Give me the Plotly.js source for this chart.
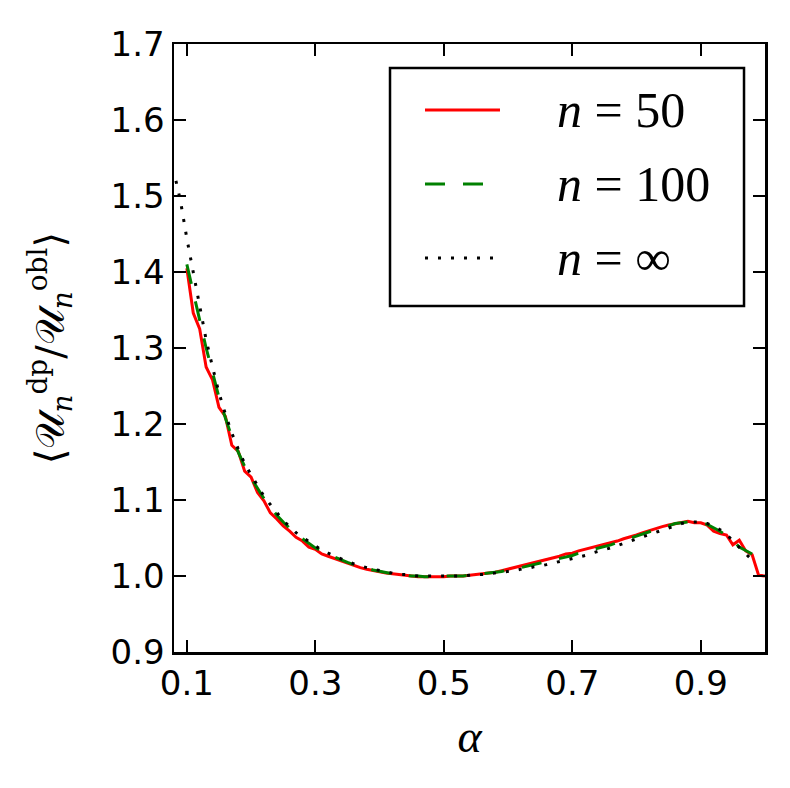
<!DOCTYPE html>
<html>
<head>
<meta charset="utf-8">
<script src="https://cdn.plot.ly/plotly-3.0.1.min.js"></script>
<style>html,body{margin:0;padding:0;background:#fff;}#chart{width:790px;height:788px;}</style>
</head>
<body>
<div id="chart"></div>
<script>
// ---- data ----
var alpha50 = [0.10,0.11,0.12,0.13,0.14,0.15,0.16,0.17,0.18,0.19,0.20,0.21,0.22,0.23,0.24,0.25,0.26,0.27,0.28,0.29,0.30,0.31,0.32,0.33,0.34,0.35,0.36,0.37,0.38,0.39,0.40,0.41,0.42,0.43,0.44,0.45,0.46,0.47,0.48,0.49,0.50,0.51,0.52,0.53,0.54,0.55,0.56,0.57,0.58,0.59,0.60,0.61,0.62,0.63,0.64,0.65,0.66,0.67,0.68,0.69,0.70,0.71,0.72,0.73,0.74,0.75,0.76,0.77,0.78,0.79,0.80,0.81,0.82,0.83,0.84,0.85,0.86,0.87,0.88,0.89,0.90,0.91,0.92,0.93,0.94,0.95,0.96,0.97,0.98,0.99,1.00];
var ratio50 = [1.405,1.346,1.325,1.275,1.258,1.222,1.210,1.172,1.164,1.138,1.130,1.110,1.099,1.083,1.075,1.066,1.059,1.051,1.046,1.038,1.035,1.029,1.026,1.023,1.019,1.016,1.013,1.011,1.009,1.007,1.005,1.004,1.003,1.002,1.001,1.000,0.999,0.999,0.999,0.999,0.999,1.000,1.000,1.000,1.001,1.002,1.003,1.004,1.005,1.007,1.009,1.011,1.013,1.015,1.017,1.020,1.021,1.024,1.026,1.029,1.030,1.033,1.035,1.037,1.039,1.042,1.043,1.046,1.049,1.051,1.054,1.057,1.060,1.062,1.065,1.067,1.069,1.071,1.072,1.070,1.070,1.067,1.059,1.056,1.054,1.041,1.047,1.033,1.028,1.001,1.000];

var alpha100 = [0.10,0.11,0.12,0.13,0.14,0.15,0.16,0.17,0.18,0.19,0.20,0.21,0.22,0.23,0.24,0.25,0.26,0.27,0.28,0.29,0.30,0.31,0.32,0.33,0.34,0.35,0.36,0.37,0.38,0.39,0.40,0.41,0.42,0.43,0.44,0.45,0.46,0.47,0.48,0.49,0.50,0.51,0.52,0.53,0.54,0.55,0.56,0.57,0.58,0.59,0.60,0.61,0.62,0.63,0.64,0.65,0.66,0.67,0.68,0.69,0.70,0.71,0.72,0.73,0.74,0.75,0.76,0.77,0.78,0.79,0.80,0.81,0.82,0.83,0.84,0.85,0.86,0.87,0.88,0.89,0.90,0.91,0.92,0.93,0.94,0.95,0.96,0.97,0.98];
var ratio100 = [1.410,1.372,1.335,1.300,1.268,1.235,1.208,1.183,1.163,1.144,1.129,1.115,1.102,1.091,1.080,1.071,1.063,1.055,1.049,1.043,1.037,1.033,1.028,1.025,1.021,1.018,1.015,1.012,1.010,1.008,1.006,1.005,1.003,1.002,1.001,1.000,1.000,0.999,0.999,0.999,1.000,1.000,1.000,1.000,1.001,1.002,1.003,1.004,1.005,1.006,1.008,1.009,1.011,1.013,1.015,1.017,1.018,1.021,1.023,1.025,1.027,1.030,1.032,1.034,1.037,1.039,1.041,1.044,1.047,1.049,1.052,1.055,1.058,1.061,1.064,1.066,1.069,1.070,1.071,1.071,1.071,1.068,1.064,1.059,1.053,1.047,1.038,1.034,1.029];

var alphaInf = [0.083,0.09,0.10,0.11,0.12,0.13,0.14,0.15,0.16,0.17,0.18,0.19,0.20,0.21,0.22,0.23,0.24,0.25,0.26,0.27,0.28,0.29,0.30,0.31,0.32,0.33,0.34,0.35,0.36,0.37,0.38,0.39,0.40,0.41,0.42,0.43,0.44,0.45,0.46,0.47,0.48,0.49,0.50,0.51,0.52,0.53,0.54,0.55,0.56,0.57,0.58,0.59,0.60,0.61,0.62,0.63,0.64,0.65,0.66,0.67,0.68,0.69,0.70,0.71,0.72,0.73,0.74,0.75,0.76,0.77,0.78,0.79,0.80,0.81,0.82,0.83,0.84,0.85,0.86,0.87,0.88,0.89,0.90,0.91,0.92,0.93,0.94,0.95,0.96,0.97,0.98];
var ratioInf = [1.520,1.494,1.444,1.398,1.352,1.311,1.275,1.241,1.213,1.188,1.167,1.148,1.133,1.119,1.105,1.094,1.083,1.073,1.065,1.057,1.051,1.045,1.039,1.034,1.030,1.026,1.022,1.019,1.016,1.013,1.011,1.009,1.007,1.005,1.004,1.002,1.002,1.001,1.000,1.000,1.000,1.000,1.000,1.000,1.000,1.000,1.001,1.002,1.002,1.003,1.004,1.005,1.006,1.007,1.009,1.010,1.012,1.013,1.015,1.017,1.019,1.021,1.022,1.025,1.027,1.030,1.032,1.035,1.037,1.040,1.043,1.046,1.049,1.052,1.055,1.058,1.061,1.064,1.067,1.069,1.071,1.071,1.071,1.069,1.066,1.061,1.055,1.046,1.038,1.030,1.021];

var seriesNames = ['<i>n</i> = 50', '<i>n</i> = 100', '<i>n</i> = ∞'];
var seriesColors = ['#ff0000', '#008000', '#000000'];
var seriesDash = ['solid', '20px,18px', '3px,10px'];
var xTickVals = [0.1, 0.3, 0.5, 0.7, 0.9];
var xTickText = ['0.1', '0.3', '0.5', '0.7', '0.9'];
var yTickVals = [0.9, 1.0, 1.1, 1.2, 1.3, 1.4, 1.5, 1.6, 1.7];
var yTickText = ['0.9', '1.0', '1.1', '1.2', '1.3', '1.4', '1.5', '1.6', '1.7'];

// ---- chart ----
var xs = [alpha50, alpha100, alphaInf];
var ys = [ratio50, ratio100, ratioInf];
var traces = xs.map(function (x, i) {
  return {x: x, y: ys[i], name: seriesNames[i], mode: 'lines', showlegend: false,
          line: {color: seriesColors[i], width: 3, dash: seriesDash[i]}};
});

// legend box drawn in paper coordinates (upper right of plot area)
var legBox = {x0: 0.3655, x1: 0.9645, y0: 0.5691, y1: 0.9605};
var legRows = [0.8914, 0.7697, 0.6480];
var sampleX = [0.4247, 0.5516];
var textX = 0.6447;

var shapes = [{type: 'rect', xref: 'paper', yref: 'paper',
  x0: legBox.x0, x1: legBox.x1, y0: legBox.y0, y1: legBox.y1,
  line: {color: '#000', width: 2.5}, fillcolor: '#fff', layer: 'above'}];
var annotations = [];
legRows.forEach(function (yy, i) {
  shapes.push({type: 'line', xref: 'paper', yref: 'paper',
    x0: sampleX[0], x1: sampleX[1], y0: yy, y1: yy, layer: 'above',
    line: {color: seriesColors[i], width: 3, dash: seriesDash[i]}});
  annotations.push({xref: 'paper', yref: 'paper', x: textX, y: yy,
    xanchor: 'left', yanchor: 'middle', showarrow: false, text: seriesNames[i],
    font: {family: 'Liberation Serif', size: 50, color: '#000'}});
});

var tickFont = {family: 'DejaVu Sans', size: 34, color: '#000'};

var layout = {
  width: 790, height: 788,
  margin: {l: 174, r: 25, t: 44, b: 136},
  paper_bgcolor: '#fff', plot_bgcolor: '#fff',
  showlegend: false,
  xaxis: {
    range: [0.08, 1.0], tickvals: xTickVals, ticktext: xTickText,
    ticks: 'inside', ticklen: 12, tickwidth: 2, tickcolor: '#000',
    showline: true, linewidth: 2.5, linecolor: '#000', mirror: 'ticks',
    showgrid: false, zeroline: false, tickfont: tickFont,
    title: {text: '<i>α</i>', font: {family: 'Liberation Serif', size: 46, color: '#000'}, standoff: 18}
  },
  yaxis: {
    range: [0.9, 1.7], tickvals: yTickVals, ticktext: yTickText,
    ticks: 'inside', ticklen: 12, tickwidth: 2, tickcolor: '#000',
    showline: true, linewidth: 2.5, linecolor: '#000', mirror: 'ticks',
    showgrid: false, zeroline: false, tickfont: tickFont,
    title: {text: '⟨𝒰<sub><i>n</i></sub><sup>dp</sup>/𝒰<sub><i>n</i></sub><sup>obl</sup>⟩',
            font: {family: 'DejaVu Serif', size: 40, color: '#000'}, standoff: 34}
  },
  shapes: shapes,
  annotations: annotations
};

Plotly.newPlot('chart', traces, layout, {displayModeBar: false, staticPlot: true});
</script>
</body>
</html>
